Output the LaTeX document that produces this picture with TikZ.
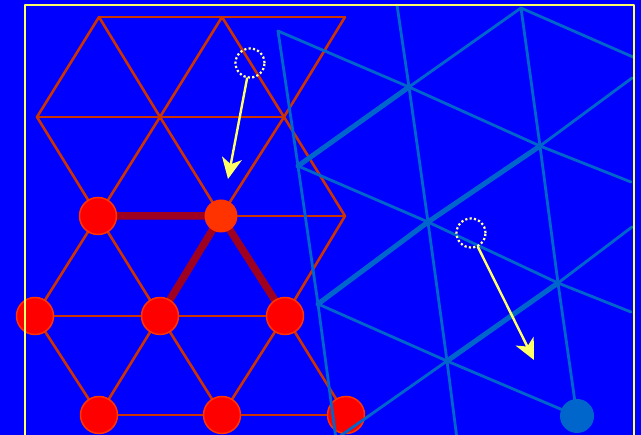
\documentclass[tikz,border=0pt]{standalone}
\usetikzlibrary{arrows.meta}
\definecolor{latBg}{HTML}{0000FF}
\definecolor{latRed}{HTML}{CC3300}
\definecolor{latBond}{HTML}{A00020}
\definecolor{latAtom}{HTML}{FF0000}
\definecolor{latHot}{HTML}{FF3300}
\definecolor{latSteel}{HTML}{0066CC}
\definecolor{latYellow}{HTML}{FFFF66}
\definecolor{latDot}{HTML}{FFFF99}

\begin{document}
\begin{tikzpicture}[x=1pt,y=-1pt,>={Stealth[length=21pt,width=20pt,inset=6pt]},line cap=round,line join=round]
\useasboundingbox (0,0) rectangle (641,435); \clip (0,0) rectangle (641,435);
\path[fill=latBg] (0,0) rectangle (641,435);
\tikzset{redline/.style={draw=latRed,line width=2.6pt},bond/.style={draw=latBond,line width=7.5pt},steelline/.style={draw=latSteel,line width=2.8pt},steelthick/.style={draw=latSteel,line width=5pt},atom/.style={circle,fill=latAtom,draw=latHot,line width=1.5pt,minimum size=37pt,inner sep=0pt},hotatom/.style={circle,fill=latHot,minimum size=33pt,inner sep=0pt},steelatom/.style={circle,fill=latSteel,minimum size=34pt,inner sep=0pt},ghostsite/.style={circle,draw=latDot,line width=2.2pt,dash pattern=on 2.2pt off 2.2pt,line cap=butt,minimum size=29pt,inner sep=0pt},moveArrow/.style={draw=latYellow,line width=2.4pt,->}}
% red (fixed) lattice
\coordinate (r1a) at (99,17); \coordinate (r1b) at (222,17); \coordinate (r1c) at (345,17);
\coordinate (r2a) at (37,117); \coordinate (r2b) at (160,117); \coordinate (r2c) at (284,117);
\coordinate (r3a) at (98,216); \coordinate (r3b) at (221,216); \coordinate (r3c) at (345,216);
\coordinate (r4a) at (35,316); \coordinate (r4b) at (160,316); \coordinate (r4c) at (285,316);
\coordinate (r5a) at (99,415); \coordinate (r5b) at (222,415); \coordinate (r5c) at (346,415);
\draw[redline] (r1a) -- (r1c); \draw[redline] (r2a) -- (r2c); \draw[redline] (r3b) -- (r3c); \draw[redline] (r4a) -- (r4c); \draw[redline] (r5a) -- (r5c);
\draw[redline] (r1a) -- (r2a) -- (r3a) -- (r4a) -- (r5a); \draw[redline] (r1a) -- (r2b) -- (r3a) -- (r4b) -- (r5a);
\draw[redline] (r1b) -- (r2b) -- (r3b) -- (r4b) -- (r5b); \draw[redline] (r1b) -- (r2c) -- (r3b) -- (r4c) -- (r5b);
\draw[redline] (r1c) -- (r2c) -- (r3c) -- (r4c) -- (r5c);
\draw[bond] (r3a) -- (r3b) -- (r4b); \draw[bond] (r3b) -- (r4c);
\node[atom] (a3a) at (r3a) {}; \node[hotatom] (a3b) at (r3b) {};
\node[atom] (a4a) at (r4a) {}; \node[atom] (a4b) at (r4b) {}; \node[atom] (a4c) at (r4c) {};
\node[atom] (a5a) at (r5a) {}; \node[atom] (a5b) at (r5b) {}; \node[atom] (a5c) at (r5c) {};
% blue (rotated) lattice
\coordinate (p1) at (278,31); \coordinate (p2) at (521,8); \coordinate (p3) at (409,87); \coordinate (p4) at (540,146);
\coordinate (p5) at (298,166); \coordinate (p6) at (428,222); \coordinate (p7) at (558,283); \coordinate (p8) at (318,304);
\coordinate (p9) at (447,361); \coordinate (p10) at (577,416); \coordinate (p11) at (336,439);
\coordinate (q1) at (397,5); \coordinate (q2) at (633,57); \coordinate (q3) at (632,78); \coordinate (q4) at (631,182);
\coordinate (q5) at (632,227); \coordinate (q6) at (631,312); \coordinate (q7) at (457,439);
\draw[steelline] (p1) -- (p5) -- (p8) -- (p11); \draw[steelline] (q1) -- (p3) -- (p6) -- (p9) -- (q7); \draw[steelline] (p2) -- (p4) -- (p7) -- (p10);
\draw[steelline] (p1) -- (p3) -- (p4) -- (q4); \draw[steelline] (p5) -- (p6) -- (p7) -- (q6); \draw[steelline] (p8) -- (p9) -- (p10); \draw[steelline] (p2) -- (q2);
\draw[steelline] (p3) -- (p2); \draw[steelline] (p4) -- (q3); \draw[steelline] (p11) -- (p9); \draw[steelline] (p7) -- (q5);
\draw[steelthick] (p5) -- (p3); \draw[steelthick] (p8) -- (p6) -- (p4); \draw[steelthick] (p9) -- (p7);
\node[steelatom] (b10) at (p10) {};
% frame
\draw[latYellow,line width=2.6pt,line cap=butt] (25,440) -- (25,5) -- (634,5) -- (634,440);
% moves
\node[ghostsite] (ghost1) at (250,63) {}; \node[ghostsite] (ghost2) at (471,233) {};
\coordinate (tip1) at (228,179); \coordinate (tip2) at (534,360);
\draw[moveArrow] (ghost1) -- (tip1); \draw[moveArrow] (ghost2) -- (tip2);
\end{tikzpicture}
\end{document}
